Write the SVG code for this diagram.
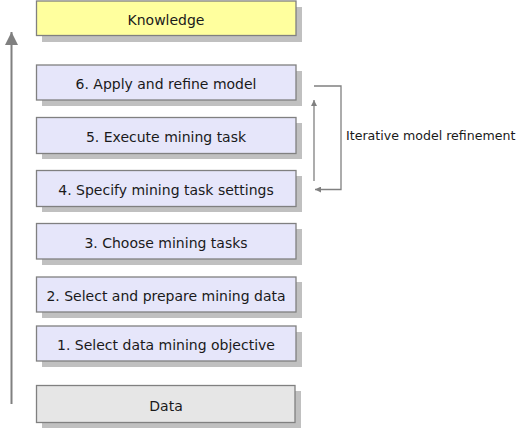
<svg xmlns="http://www.w3.org/2000/svg" width="527" height="430" viewBox="0 0 527 430">
<style>
.sh{fill:#c0c0c0}
.bx{stroke:#808080;stroke-width:1.3}
.step{fill:#e6e6fa}
.know{fill:#ffff9e}
.data{fill:#e6e6e6}
.t{font-family:"DejaVu Sans",sans-serif;font-size:14px;fill:#1a1a1a;text-anchor:middle}
.lbl{font-family:"DejaVu Sans",sans-serif;font-size:12.6px;fill:#1a1a1a}
.ln{fill:none;stroke:#808080;stroke-width:1.3}
</style>
<defs>
<marker id="ah" viewBox="0 0 10 10" refX="10" refY="5" markerWidth="9" markerHeight="6" markerUnits="userSpaceOnUse" orient="auto">
<path d="M0,0 L10,5 L0,10 z" fill="#808080"/>
</marker>
<marker id="big" viewBox="0 0 10 10" refX="10" refY="5" markerWidth="20" markerHeight="13" markerUnits="userSpaceOnUse" orient="auto">
<path d="M0,0 L10,5 L0,10 z" fill="#808080"/>
</marker>
</defs>
<g id="connectors">
<path class="ln" d="M11.5,404 L11.5,32" marker-end="url(#big)" style="stroke-width:2"/>
<path class="ln" d="M314,181 L314,100" marker-end="url(#ah)"/>
<path class="ln" d="M314,86 L341,86 L341,189.5 L315,189.5" marker-end="url(#ah)"/>
</g>
<g id="knowledge">
<rect class="sh" x="42" y="7" width="260" height="35"/>
<rect class="bx know" x="36.5" y="1" width="259.5" height="34.5"/>
<text class="t" x="166" y="24.5">Knowledge</text>
</g>
<g id="step6">
<rect class="sh" x="42" y="71" width="260" height="35"/>
<rect class="bx step" x="36.5" y="65" width="259.5" height="35"/>
<text class="t" x="166" y="88.5">6. Apply and refine model</text>
</g>
<g id="step5">
<rect class="sh" x="42" y="123" width="260" height="36"/>
<rect class="bx step" x="36.5" y="117.5" width="259.5" height="36"/>
<text class="t" x="166" y="141.5">5. Execute mining task</text>
</g>
<g id="step4">
<rect class="sh" x="42" y="176" width="260" height="36"/>
<rect class="bx step" x="36.5" y="170.5" width="259.5" height="36"/>
<text class="t" x="166" y="194.5">4. Specify mining task settings</text>
</g>
<g id="step3">
<rect class="sh" x="42" y="229" width="260" height="36"/>
<rect class="bx step" x="36.5" y="223.5" width="259.5" height="35.5"/>
<text class="t" x="166" y="247.5">3. Choose mining tasks</text>
</g>
<g id="step2">
<rect class="sh" x="42" y="282" width="260" height="36"/>
<rect class="bx step" x="36.5" y="277" width="259.5" height="35"/>
<text class="t" x="166" y="300.5">2. Select and prepare mining data</text>
</g>
<g id="step1">
<rect class="sh" x="42" y="332" width="260" height="35"/>
<rect class="bx step" x="36.5" y="326" width="259.5" height="35"/>
<text class="t" x="166" y="349.5">1. Select data mining objective</text>
</g>
<g id="data">
<rect class="sh" x="42" y="391" width="259" height="37"/>
<rect class="bx data" x="36.5" y="385.5" width="258.5" height="37"/>
<text class="t" x="166" y="410.5">Data</text>
</g>
<g id="label">
<text class="lbl" x="346" y="139.5">Iterative model refinement</text>
</g>
</svg>
